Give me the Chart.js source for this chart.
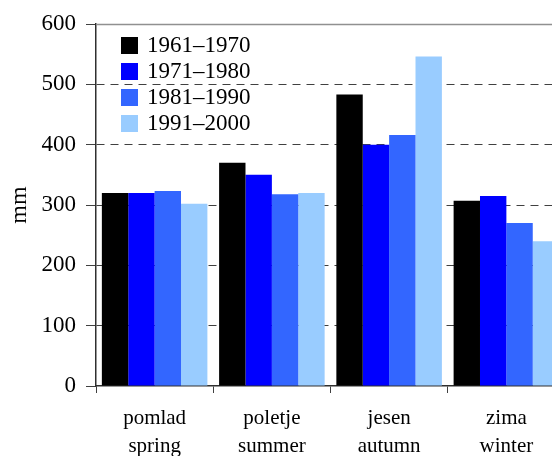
<!DOCTYPE html>
<html>
<head>
<meta charset="utf-8">
<script src="https://cdn.jsdelivr.net/npm/chart.js@4/dist/chart.umd.min.js"></script>
<style>
html,body{margin:0;padding:0;background:#fff;overflow:hidden;width:552px;height:456px;}
canvas{position:absolute;left:0;top:0;}
</style>
</head>
<body>
<canvas id="c" width="566" height="456"></canvas>
<script>
const categories = [["pomlad","spring"],["poletje","summer"],["jesen","autumn"],["zima","winter"]];
const seriesLabels = ["1961\u20131970","1971\u20131980","1981\u20131990","1991\u20132000"];
const s1961 = [320, 370, 483, 307];
const s1971 = [320, 350, 400, 315];
const s1981 = [323, 318, 416, 270];
const s1991 = [302, 320, 546, 240];
const colors = ["#000000","#0000ff","#3366ff","#99ccff"];
const yTicks = [0,100,200,300,400,500,600];

const FONT = "'Liberation Serif','Times New Roman',serif";

const legendPlugin = {
  id: 'innerLegend',
  afterDraw(chart){
    const ctx = chart.ctx;
    ctx.save();
    ctx.font = "23px " + FONT;
    ctx.textBaseline = 'middle';
    chart.data.datasets.forEach((ds,i)=>{
      const y = 37 + i*26;
      ctx.fillStyle = ds.backgroundColor;
      ctx.fillRect(121, y, 17, 17);
      ctx.fillStyle = '#000';
      ctx.fillText(ds.label, 147, y + 9);
    });
    ctx.restore();
  }
};
const topLine = {
  id: 'topLine',
  beforeDatasetsDraw(chart){
    const ctx = chart.ctx, a = chart.chartArea;
    const y = Math.round(chart.scales.y.getPixelForValue(600)) + 0.5;
    ctx.save();
    ctx.strokeStyle = '#909090';
    ctx.lineWidth = 1.5;
    ctx.beginPath();
    ctx.moveTo(a.left, y);
    ctx.lineTo(a.right, y);
    ctx.stroke();
    ctx.restore();
  }
};

new Chart(document.getElementById('c'), {
  type: 'bar',
  data: {
    labels: categories,
    datasets: [
      {label: seriesLabels[0], data: s1961, backgroundColor: colors[0]},
      {label: seriesLabels[1], data: s1971, backgroundColor: colors[1]},
      {label: seriesLabels[2], data: s1981, backgroundColor: colors[2]},
      {label: seriesLabels[3], data: s1991, backgroundColor: colors[3]}
    ]
  },
  options: {
    responsive: false,
    animation: false,
    layout: {padding: {left: 0, right: 1, top: 24, bottom: 0}},
    datasets: {bar: {categoryPercentage: 0.9, barPercentage: 1.0, borderWidth: 0}},
    plugins: {legend: {display: false}, tooltip: {enabled: false}},
    scales: {
      x: {
        grid: {display: true, drawOnChartArea: false, offset: true, tickLength: 7, color: '#404040', tickColor: '#404040'},
        border: {display: true, color: '#303030', width: 1.5},
        ticks: {color: '#000', font: {family: FONT, size: 21, lineHeight: 1.35}, padding: 11, maxRotation: 0},
        afterFit: s => { s.height = 70; }
      },
      y: {
        min: 0, max: 600,
        afterBuildTicks: s => { s.ticks = yTicks.map(v => ({value: v})); },
        grid: {
          color: ctx => (ctx.tick && (ctx.tick.value === 0 || ctx.tick.value === 600)) ? 'rgba(0,0,0,0)' : '#404040',
          tickColor: '#404040', tickLength: 10, lineWidth: 1, tickBorderDash: []
        },
        border: {display: true, color: '#303030', width: 1.5, dash: [8,6]},
        ticks: {color: '#000', font: {family: FONT, size: 23}, padding: 10},
        title: {display: true, text: 'mm', color: '#000', font: {family: FONT, size: 24}, padding: {top: 5, bottom: 0}},
        afterFit: s => { s.width = 96; }
      }
    }
  },
  plugins: [topLine, legendPlugin]
});
</script>
</body>
</html>
